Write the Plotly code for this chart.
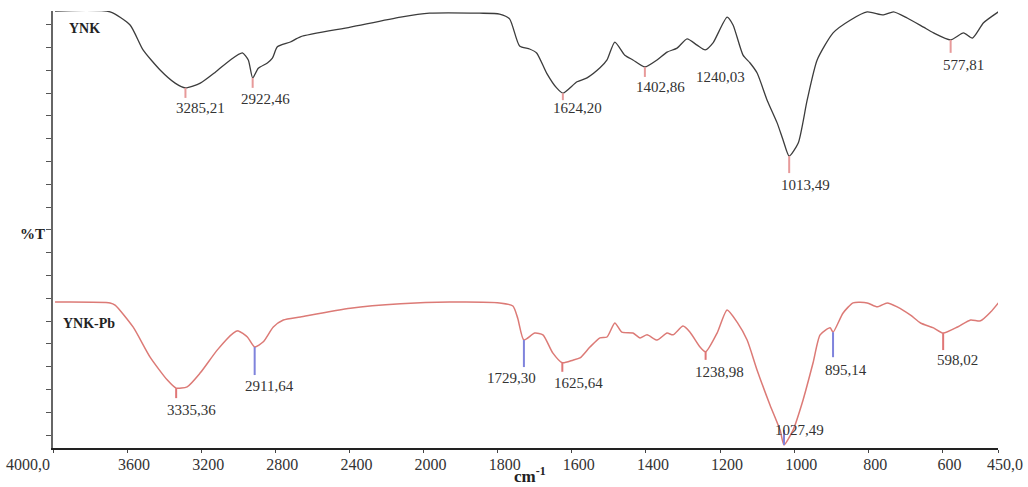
import numpy as np
import plotly.graph_objects as go

# ---------------- data (wavenumber in cm-1, transmittance in display units) ----------------
ynk_wn = [3989, 3692, 3584, 3514, 3422, 3341, 3285.21, 3205, 3124, 3043, 2978, 2946, 2922.46,
          2892, 2843, 2816, 2789, 2719, 2665, 2395, 2124, 1984, 1849, 1795, 1768, 1741, 1714,
          1695, 1668, 1641, 1624.20, 1586, 1559, 1524, 1505, 1484, 1457, 1435, 1402.86, 1370,
          1343, 1316, 1289, 1262, 1240.03, 1219, 1181, 1165, 1138, 1119, 1100, 1073, 1046, 1030,
          1013.49, 989, 965, 938, 895, 849, 803, 759, 732, 695, 651, 624, 577.81, 543, 519, 489, 449]
ynk_t = [100.0, 99.8, 96.8, 91.1, 86.5, 83.5, 82.4, 83.5, 86.0, 88.8, 90.4, 88.8, 84.7,
         86.9, 88.1, 89.2, 91.8, 92.9, 94.1, 96.3, 98.6, 99.5, 99.5, 99.3, 98.2, 92.0, 91.3,
         90.4, 85.8, 82.4, 81.2, 83.8, 84.7, 87.0, 88.8, 92.9, 89.9, 88.8, 87.2, 88.8,
         90.6, 91.5, 93.6, 92.2, 91.1, 92.7, 98.6, 96.8, 89.9, 88.1, 85.8, 79.6, 74.4, 70.5,
         66.8, 69.8, 79.6, 88.8, 95.0, 97.9, 99.8, 99.1, 99.8, 98.4, 96.3, 95.0, 93.4, 95.0, 93.8, 97.3, 99.8]

ynk_pb_wn = [3989, 3692, 3665, 3568, 3476, 3384, 3335.36, 3276, 3205, 3114, 3027, 3000, 2951,
             2911.64, 2865, 2811, 2757, 2665, 2395, 2124, 1930, 1795, 1759, 1746, 1729.30, 1700,
             1678, 1651, 1625.64, 1597, 1578, 1551, 1524, 1505, 1484, 1465, 1435, 1416, 1397,
             1370, 1343, 1327, 1300, 1281, 1254, 1238.98, 1208, 1181, 1154, 1127, 1100, 1065,
             1038, 1027.49, 1003, 976, 949, 930, 903, 895.14, 868, 841, 803, 776, 749, 722, 686,
             659, 624, 598.02, 559, 524, 497, 470, 449]
ynk_pb_t = [33.4, 33.2, 32.7, 27.7, 20.8, 15.6, 13.7, 14.0, 17.2, 22.4, 26.3, 26.8, 25.4,
            23.1, 24.3, 27.7, 29.3, 30.0, 32.0, 33.0, 33.4, 33.2, 32.5, 29.7, 24.7, 26.3,
            25.9, 21.7, 19.5, 20.1, 20.6, 23.1, 25.2, 25.4, 28.6, 26.5, 26.3, 25.2, 25.9,
            24.7, 26.3, 25.9, 27.9, 26.5, 23.1, 22.0, 26.3, 31.6, 28.8, 24.7, 17.8, 9.8,
            4.1, 0.7, 4.1, 11.0, 19.5, 25.9, 27.5, 26.5, 30.9, 33.2, 33.2, 32.3, 33.2, 32.3, 30.4,
            28.6, 27.5, 26.3, 27.7, 29.3, 29.1, 31.1, 33.2]

ynk_peaks = [3285.21, 2922.46, 1624.20, 1402.86, 1240.03, 1013.49, 577.81]
ynk_pb_peaks = [3335.36, 2911.64, 1729.30, 1625.64, 1238.98, 1027.49, 895.14, 598.02]

tick_wn = [4000, 3600, 3200, 2800, 2400, 2000, 1800, 1600, 1400, 1200, 1000, 800, 600, 450]
tick_text = ["4000,0", "3600", "3200", "2800", "2400", "2000", "1800", "1600",
             "1400", "1200", "1000", "800", "600", "450,0"]

# ---------------- styling / layout helpers ----------------
PX_PER_UNIT = 4.37          # vertical pixels per transmittance unit
PINK = "#e79a9a"
RED = "#e07676"
BLUE = "#7f83dc"

# marker colour, marker length (px, positive = downward), label offset (dx, dy px)
ynk_style = [(PINK, 10, 15, 20), (PINK, 10, 13, 21), (PINK, 7, 15, 15), (PINK, 10, 16, 20),
             (PINK, 0, 15, 27), (PINK, 17, 16, 29), (PINK, 13, 13, 25)]
ynk_pb_style = [(RED, 10, 15, 22), (BLUE, 28, 15, 39), (BLUE, 27, -12, 38), (RED, 9, 16, 20),
                (RED, 8, 14, 20), (BLUE, -15, 16, -15), (BLUE, 25, 13, 38), (RED, 17, 14, 27)]


def to_axis(w):
    """Split wavenumber scale: 4000-2000 compressed, 2000-450 expanded twice."""
    w = np.asarray(w, dtype=float)
    return np.where(w >= 2000, 4000 - w, 2000 + 2 * (2000 - w))


def fmt(v):
    return f"{v:.2f}".replace(".", ",")


SERIF = "Liberation Serif"

# first tick label sits left of its tick in the reference: pad it on the right
shown_ticks = list(tick_text)
shown_ticks[0] = shown_ticks[0] + "\u00a0" * 16

fig = go.Figure()
fig.add_trace(go.Scatter(x=to_axis(ynk_wn), y=ynk_t, mode="lines",
                         line=dict(color="#3c3c3c", width=1.3, shape="spline", smoothing=0.6),
                         hoverinfo="skip", showlegend=False))
fig.add_trace(go.Scatter(x=to_axis(ynk_pb_wn), y=ynk_pb_t, mode="lines",
                         line=dict(color="#dc7a76", width=1.5, shape="spline", smoothing=0.6),
                         hoverinfo="skip", showlegend=False))


def add_peaks(wn, t, peaks, styles):
    order = np.argsort(wn)
    xs = np.asarray(wn, float)[order]
    ys = np.asarray(t, float)[order]
    for p, (col, ln, dx, dy) in zip(peaks, styles):
        xv = float(to_axis([p])[0])
        yv = float(np.interp(p, xs, ys))
        if ln != 0:
            fig.add_shape(type="line", xref="x", yref="y", x0=xv, x1=xv,
                          y0=yv, y1=yv - ln / PX_PER_UNIT,
                          line=dict(color=col, width=2))
        fig.add_annotation(x=xv, y=yv, xref="x", yref="y", text=fmt(p),
                           showarrow=False, xshift=dx, yshift=-dy,
                           font=dict(family=SERIF, size=15, color="#333333"))


add_peaks(ynk_wn, ynk_t, ynk_peaks, ynk_style)
add_peaks(ynk_pb_wn, ynk_pb_t, ynk_pb_peaks, ynk_pb_style)

# sample names
fig.add_annotation(x=0.015, y=96.0, xref="paper", yref="y", text="<b>YNK</b>",
                   showarrow=False, xanchor="left",
                   font=dict(family=SERIF, size=14, color="#222222"))
fig.add_annotation(x=0.008, y=28.6, xref="paper", yref="y", text="<b>YNK-Pb</b>",
                   showarrow=False, xanchor="left",
                   font=dict(family=SERIF, size=14, color="#222222"))

# axis titles
fig.add_annotation(x=-0.0065, y=49.0, xref="paper", yref="y", text="<b>%T</b>",
                   showarrow=False, xanchor="right",
                   font=dict(family=SERIF, size=15, color="#222222"))
fig.add_annotation(x=0.505, y=-0.062, xref="paper", yref="paper", text="<b>cm<sup>-1</sup></b>",
                   showarrow=False, yanchor="middle",
                   font=dict(family=SERIF, size=17, color="#222222"))

ytick_vals = list(np.arange(13 / PX_PER_UNIT, 100, 22.8 / PX_PER_UNIT))

fig.update_layout(
    width=1028, height=487,
    margin=dict(l=53, r=30, t=11, b=39, autoexpand=False),
    paper_bgcolor="white", plot_bgcolor="white",
    xaxis=dict(range=[0, 5100], tickmode="array", tickvals=list(to_axis(tick_wn)),
               ticktext=shown_ticks, showgrid=False, zeroline=False,
               showline=True, linecolor="#222222", linewidth=1.5,
               ticks="outside", ticklen=3, tickcolor="#444444", ticklabelshift=7,
               ticklabelstandoff=-2,
               tickfont=dict(family=SERIF, size=16, color="#333333")),
    yaxis=dict(range=[0, 100], tickmode="array", tickvals=ytick_vals,
               showticklabels=False, showgrid=False, zeroline=False,
               showline=True, linecolor="#666666", linewidth=1.5,
               ticks="outside", ticklen=5, tickcolor="#555555"),
)

fig.write_html("out.html", config={"displayModeBar": False},
               post_script="document.body.style.margin='0';document.body.style.overflow='hidden';")
